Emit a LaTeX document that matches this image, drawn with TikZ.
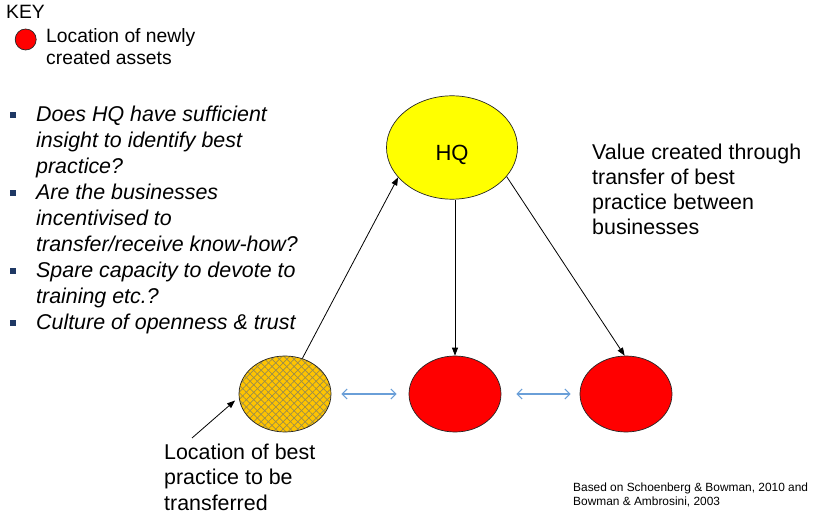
\documentclass[tikz,border=0pt]{standalone}
\usepackage{fontspec}
\setmainfont{Liberation Sans}
\usetikzlibrary{shapes.geometric,arrows.meta,patterns.meta}

\definecolor{hqyellow}{HTML}{FFFF00}
\definecolor{assetred}{HTML}{FF0000}
\definecolor{bestgold}{HTML}{FFC400}
\definecolor{hatchline}{HTML}{9A8C4E}
\definecolor{linkblue}{HTML}{6A9FD8}
\definecolor{bulletnavy}{HTML}{1F3864}

\tikzset{
  unit/.style={ellipse, draw=black!85, line width=0.7pt,
    minimum width=92pt, minimum height=76pt, inner sep=0pt},
  asset/.style={unit, fill=assetred},
  txt/.style={anchor=base west, inner sep=0pt, font=\fontsize{21.4}{26}\selectfont},
  ask/.style={anchor=base west, inner sep=0pt, font=\fontsize{21.4}{26}\selectfont\itshape},
  keytxt/.style={anchor=base west, inner sep=0pt, font=\fontsize{19.3}{22}\selectfont},
  smalltxt/.style={anchor=base west, inner sep=0pt, font=\fontsize{11.9}{15}\selectfont},
  bulletmark/.style={rectangle, fill=bulletnavy, minimum size=6pt, inner sep=0pt},
  flow/.style={-{Triangle[length=8pt,width=6pt]}, line width=0.8pt},
  exchange/.style={{Straight Barb[length=5pt,width=10pt]}-{Straight Barb[length=5pt,width=10pt]},
    draw=linkblue, line width=1.1pt},
}

\begin{document}
\begin{tikzpicture}[x=1pt,y=-1pt]
\useasboundingbox (0,0) rectangle (830,521);

% key
\node[keytxt] (key) at (6,19) {KEY};
\node[circle, draw=black!85, line width=0.7pt, fill=assetred, minimum size=21pt, inner sep=0pt] (legenddot) at (25.7,39.5) {};
\node[keytxt] (legend1) at (46,43) {Location of newly};
\node[keytxt] (legend2) at (46,65) {created assets};

% questions
\node[bulletmark] (b1) at (13,115) {};
\node[ask] (q1) at (36,121.7) {Does HQ have sufficient};
\node[ask] (q2) at (36,147.7) {insight to identify best};
\node[ask] (q3) at (36,173.7) {practice?};
\node[bulletmark] (b2) at (13,193) {};
\node[ask] (q4) at (36,199.7) {Are the businesses};
\node[ask] (q5) at (36,225.7) {incentivised to};
\node[ask] (q6) at (36,251.7) {transfer/receive know-how?};
\node[bulletmark] (b3) at (13,271) {};
\node[ask] (q7) at (36,277.7) {Spare capacity to devote to};
\node[ask] (q8) at (36,303.7) {training etc.?};
\node[bulletmark] (b4) at (13,323) {};
\node[ask] (q9) at (36,329.7) {Culture of openness \& trust};

% headquarters and businesses
\node[unit, fill=hqyellow, minimum width=131pt, minimum height=103.4pt] (hq) at (452,147.5) {};
\node[anchor=base, inner sep=0pt, font=\fontsize{22}{26}\selectfont] (hqtext) at (452,161) {HQ};
\node[unit, preaction={fill=bestgold},
      preaction={pattern={Lines[angle=45,distance=5.2pt,line width=0.7pt]}, pattern color=hatchline},
      pattern={Lines[angle=-45,distance=5.2pt,line width=0.7pt]}, pattern color=hatchline] (best) at (285,394) {};
\node[asset] (mid) at (455,394) {};
\node[asset] (right) at (626,394) {};

% value text
\node[txt] (v1) at (592,160) {Value created through};
\node[txt] (v2) at (592,185) {transfer of best};
\node[txt] (v3) at (592,210) {practice between};
\node[txt] (v4) at (592,235) {businesses};

% label of best practice
\node[txt] (l1) at (164,459) {Location of best};
\node[txt] (l2) at (164,484.5) {practice to be};
\node[txt] (l3) at (164,510) {transferred};

% source
\node[smalltxt] (s1) at (573,491) {Based on Schoenberg \& Bowman, 2010 and};
\node[smalltxt] (s2) at (573,505) {Bowman \& Ambrosini, 2003};

% connectors
\draw[flow] (best.64) -- (hq.209);
\draw[flow] (hq.south -| mid.north) -- (mid.north);
\draw[flow] (hq.332) -- (right.92);
\draw[exchange, shorten <=10pt, shorten >=12pt] (best.east) -- (mid.west);
\draw[exchange, shorten <=15pt, shorten >=9pt] (mid.east) -- (right.west);
\coordinate (labeltail) at (192,438);
\draw[flow, shorten >=5pt] (labeltail) -- (best.184);
\end{tikzpicture}
\end{document}
